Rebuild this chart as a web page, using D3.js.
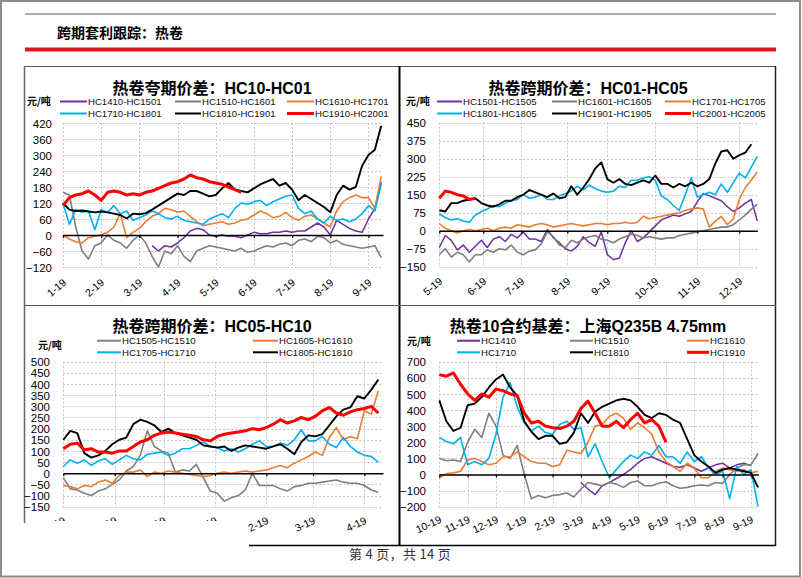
<!DOCTYPE html>
<html><head><meta charset="utf-8">
<script src="https://cdn.jsdelivr.net/npm/d3@7"></script>
<style>html,body{margin:0;padding:0;background:#fff;}svg{display:block;}</style>
</head><body>
<svg id="c" width="802" height="578"></svg>
<script>
// ================= DATA =================
// Panel 1: 热卷夸期价差 HC10-HC01 (x in months, step 1/6 month)
const p1Ticks = ["1-19","2-19","3-19","4-19","5-19","6-19","7-19","8-19","9-19"];
const p1TickPos = [0,1,2,3,4,5,6,7,8];
const p1Names = ["HC1410-HC1501","HC1510-HC1601","HC1610-HC1701","HC1710-HC1801","HC1810-HC1901","HC1910-HC2001"];
const p1Start = [14,0,0,0,0,0];
const p1_s1 = [-40,-60,-40,-45,-30,-10,15,25,20,0,-5,0,-5,-5,-10,0,10,5,5,10,10,15,10,15,15,30,45,30,0,55,40,25,15,10,60,100,200];
const p1_s2 = [160,150,30,-60,-90,-40,-30,0,-20,-30,-50,-20,0,-30,-80,-120,-60,-70,-40,-80,-100,-60,-50,-40,-45,-50,-55,-60,-50,-65,-60,-50,-40,-45,-35,-30,-40,-20,-15,-25,-5,-10,-30,-20,-35,-40,-45,-50,-45,-40,-85];
const p1_s3 = [0,-15,-25,-30,-10,-5,0,10,30,80,-10,10,25,50,70,80,100,95,85,90,70,50,35,40,45,50,40,45,55,60,75,90,80,65,70,85,65,55,70,75,60,45,30,90,125,140,150,140,140,100,220];
const p1_s4 = [120,40,95,85,90,20,95,85,110,80,90,55,65,75,90,80,65,60,70,55,50,45,40,60,70,80,65,100,120,115,125,130,110,125,135,145,150,100,80,90,60,45,70,55,60,50,60,80,110,90,190];
const p1_s5 = [120,95,90,92,88,85,88,85,80,75,62,80,78,82,95,110,125,140,155,150,165,165,155,145,150,175,195,170,165,160,175,190,200,210,185,195,170,130,150,135,120,105,85,150,185,170,180,260,300,320,410];
const p1_s6 = [110,140,150,155,165,150,130,160,165,160,150,155,150,160,165,175,185,195,200,210,225,215,210,200,195,190,180,170,160];

// Panel 2: 热卷跨期价差 HC01-HC05 (x in trading days, step 3 days)
const p2Ticks = ["5-19","6-19","7-19","8-19","9-19","10-19","11-19","12-19"];
const p2TickPos = [0,22,41,64,84,108,129,150];
const p2Names = ["HC1501-HC1505","HC1601-HC1605","HC1701-HC1705","HC1801-HC1805","HC1901-HC1905","HC2001-HC2005"];
const p2Start = [0,0,0,0,0,0];
const p2_s1 = [-70,-20,-40,-80,-60,-90,-65,-40,-70,-35,-25,-45,-15,-30,-5,-35,-35,-45,5,-30,-50,-75,-85,-65,-25,-50,-65,-5,-100,-120,-115,-50,0,-45,-30,-5,20,45,55,65,60,70,80,120,155,145,135,125,100,80,95,115,130,40];
const p2_s2 = [-100,-75,-110,-90,-100,-130,-100,-100,-80,-90,-75,-80,-60,-90,-100,-85,-80,-55,-5,-25,-60,-70,-40,-50,-35,-25,-20,-35,-40,-50,-35,-25,-15,-20,-30,-25,-30,-35,-30,-30,-20,-15,-10,-5,0,5,10,15,15,25,45,65,90,110];
const p2_s3 = [30,10,0,-10,0,5,0,5,10,0,10,15,10,25,20,15,25,30,25,15,20,25,30,25,20,25,30,30,25,30,30,35,30,35,60,50,55,60,65,70,75,85,90,95,90,15,40,60,25,50,130,180,210,245];
const p2_s4 = [70,55,45,50,40,35,65,80,90,105,100,115,125,130,150,135,140,150,130,130,145,155,165,185,170,190,175,165,160,165,185,180,210,210,220,225,210,145,130,105,85,150,220,140,150,160,150,195,160,200,240,220,265,310];
const p2_s5 = [85,80,115,115,125,130,135,115,105,100,110,125,125,140,150,170,160,150,140,155,135,140,185,150,180,215,260,285,215,200,215,195,190,200,210,200,230,195,195,180,195,185,200,185,195,215,280,330,335,300,315,325,360];
const p2_s6 = [135,165,160,150,145,130,135];

// Panel 3: 热卷跨期价差 HC05-HC10 (x in trading days, step 3 days)
const p3Ticks = ["10-19","11-19","12-19","1-19","2-19","3-19","4-19"];
const p3TickPos = [0,22,43,65,87,107,129];
const p3Names = ["HC1505-HC1510","HC1605-HC1610","HC1705-HC1710","HC1805-HC1810","HC1905-HC1910"];
const p3Start = [0,0,0,0,0];
const p3_s1 = [-20,-70,-75,-90,-100,-80,-70,-50,-30,10,30,80,190,120,100,90,5,15,10,40,-20,-80,-90,-125,-110,-100,-75,0,-55,-55,-55,-70,-80,-60,-55,-45,-45,-40,-35,-30,-40,-45,-45,-55,-75,-85];
const p3_s2 = [-55,-60,-70,-55,-60,-40,-30,-45,-10,5,5,15,-15,5,0,10,5,0,-5,-10,-15,-10,0,5,0,5,10,5,10,15,25,35,25,45,60,75,95,80,160,205,150,165,155,280,265,370];
const p3_s3 = [30,60,45,60,35,55,65,40,60,80,65,60,85,90,95,80,90,110,110,125,140,120,115,100,110,95,110,130,145,120,120,135,125,150,195,145,145,165,130,115,160,120,95,80,75,50];
const p3_s4 = [150,190,180,90,70,80,100,130,150,160,220,240,230,215,185,200,180,170,160,150,125,120,115,120,100,115,125,120,115,110,120,130,110,85,140,170,165,175,215,255,285,295,345,335,375,420];
const p3_s5 = [110,130,135,105,110,95,95,90,100,100,120,140,150,170,180,185,180,175,170,165,150,145,165,175,180,185,190,200,195,205,220,240,225,235,250,240,255,280,295,270,260,275,285,290,300,270];

// Panel 4: 热卷10合约基差 (x in months, step 1/4 month)
const p4Ticks = ["10-19","11-19","12-19","1-19","2-19","3-19","4-19","5-19","6-19","7-19","8-19","9-19"];
const p4TickPos = [0,1,2,3,4,5,6,7,8,9,10,11];
const p4Names = ["HC1410","HC1510","HC1610","HC1710","HC1810","HC1910"];
const p4Start = [20,0,0,0,0,0];
const p4_s1 = [-50,-90,-125,-70,-50,-25,0,30,70,100,110,90,70,50,45,60,40,20,40,60,70,40,60,70,55];
const p4_s2 = [100,85,90,80,200,280,230,380,300,120,100,180,0,-150,-130,-145,-130,-125,-115,-140,-90,-50,-60,-70,-50,-60,-80,-50,-40,-70,-70,-55,-45,-70,-85,-80,-70,-65,-70,-50,-55,0,40,60,60,130];
const p4_s3 = [-20,5,10,20,90,100,80,60,70,110,110,140,110,80,70,70,50,60,150,140,130,200,300,310,360,380,350,280,320,290,250,140,80,50,20,70,40,-20,-20,20,40,30,20,30,10,20];
const p4_s4 = [230,205,190,230,60,80,60,100,250,480,570,420,320,270,300,260,250,310,330,280,290,110,190,80,-20,30,80,120,100,140,120,180,110,110,70,140,80,110,40,0,20,-150,50,0,30,-200];
const p4_s5 = [460,330,270,290,430,440,480,540,590,620,540,490,330,265,220,240,240,190,200,260,380,320,390,420,440,460,470,460,420,370,350,380,370,340,320,220,120,80,50,10,30,40,30,20,10,-80];
const p4_s6 = [620,610,630,560,500,460,500,480,530,520,500,490,380,320,330,300,290,285,300,330,410,455,380,300,300,330,290,340,380,320,340,300,200];

// ================= STYLE =================
const COL = {purple:"#7030A0", gray:"#7F7F7F", orange:"#ED7D31", blue:"#00B0F0", black:"#000000", red:"#FF0000"};
const W = {purple:1.5, gray:1.6, orange:1.6, blue:1.6, black:1.9, red:3};
const LATIN = "'Liberation Sans', Arial, 'Noto Sans CJK SC', sans-serif";
const CJK = "'Liberation Sans', 'Noto Sans CJK SC', sans-serif";

const svg = d3.select('#c');
const defs = svg.append('defs');
const cp = defs.append('clipPath').attr('id','clipBL');
cp.append('rect').attr('x',0).attr('y',0).attr('width',399).attr('height',521);
cp.append('rect').attr('x',244).attr('y',0).attr('width',155).attr('height',545);

// page frame
svg.append('rect').attr('x',1).attr('y',1).attr('width',799).attr('height',575.5)
  .attr('fill','none').attr('stroke','#8c8c8c').attr('stroke-width',2);
svg.append('line').attr('x1',25).attr('x2',776).attr('y1',14).attr('y2',14).attr('stroke','#8f8f8f').attr('stroke-width',1.6);
svg.append('text').attr('x',57).attr('y',38).attr('font-family',CJK).attr('font-weight','bold').attr('font-size',14).text('跨期套利跟踪：热卷');
svg.append('line').attr('x1',25).attr('x2',776).attr('y1',49.5).attr('y2',49.5).attr('stroke','#e3141c').attr('stroke-width',4);

// table lines
const tl = svg.append('g').attr('fill','none');
tl.append('line').attr('x1',24).attr('x2',776).attr('y1',66.5).attr('y2',66.5).attr('stroke','#555').attr('stroke-width',1.2);
tl.append('line').attr('x1',24.5).attr('x2',24.5).attr('y1',66).attr('y2',523).attr('stroke','#666').attr('stroke-width',1.5);
tl.append('line').attr('x1',775.5).attr('x2',775.5).attr('y1',66).attr('y2',546).attr('stroke','#222').attr('stroke-width',1.5);
tl.append('line').attr('x1',399.5).attr('x2',399.5).attr('y1',66).attr('y2',546).attr('stroke','#000').attr('stroke-width',2);
tl.append('line').attr('x1',24).attr('x2',776).attr('y1',305.5).attr('y2',305.5).attr('stroke','#555').attr('stroke-width',1.2);
tl.append('line').attr('x1',249).attr('x2',776).attr('y1',545.5).attr('y2',545.5).attr('stroke','#000').attr('stroke-width',1.5);

svg.append('text').attr('x',400).attr('y',559).attr('text-anchor','middle').attr('font-family',"'Noto Sans CJK SC', sans-serif")
  .attr('font-size',13).attr('letter-spacing',0.3).attr('fill','#333').text('第 4 页，共 14 页');

function drawPanel(cfg) {
  const g = svg.append('g');
  if (cfg.clip) g.attr('clip-path', `url(#${cfg.clip})`);
  const x = d3.scaleLinear().domain(cfg.xDomain).range([cfg.left, cfg.right]);
  const y = d3.scaleLinear().domain(cfg.yDomain).range([cfg.bottom, cfg.top]);
  const yTicks = d3.range(cfg.yDomain[0], cfg.yDomain[1] + cfg.yStep / 2, cfg.yStep);

  // gridlines
  g.append('g').selectAll('line').data(yTicks).join('line')
    .attr('x1', cfg.left).attr('x2', cfg.right)
    .attr('y1', d => Math.round(y(d)) + 0.5).attr('y2', d => Math.round(y(d)) + 0.5)
    .attr('stroke', '#c4c4c4').attr('stroke-width', 1).attr('stroke-dasharray', '2,2');
  g.append('g').selectAll('line').data(cfg.tickPos).join('line')
    .attr('x1', d => Math.round(x(d)) + 0.5).attr('x2', d => Math.round(x(d)) + 0.5)
    .attr('y1', cfg.top).attr('y2', cfg.bottom)
    .attr('stroke', '#c4c4c4').attr('stroke-width', 1).attr('stroke-dasharray', '2,2');

  // y labels
  const ya = d3.axisLeft(y).tickValues(yTicks).tickSize(0).tickPadding(0);
  const yg = g.append('g').attr('transform', `translate(${cfg.labelRight},0)`).call(ya);
  yg.select('.domain').remove();
  yg.attr('font-family', LATIN).attr('font-size', 11.5);
  yg.selectAll('text').attr('fill', '#000').attr('dy', '0.36em');

  // x labels
  const xa = d3.axisBottom(x).tickValues(cfg.tickPos).tickFormat((d, i) => cfg.ticks[i]).tickSize(0);
  const xg = g.append('g').attr('transform', `translate(0,${cfg.bottom})`).call(xa);
  xg.select('.domain').remove();
  xg.attr('font-family', LATIN).attr('font-size', 10.5);
  xg.selectAll('text').attr('fill', '#000').attr('x', 0).attr('y', 0).attr('dy', '0.35em')
    .attr('transform', `translate(1,${cfg.xLabOff}) rotate(${cfg.xRot})`).style('text-anchor', 'end');

  // series
  cfg.series.forEach(s => {
    const line = d3.line().x((d, i) => x((s.start + i) * cfg.step)).y(d => y(d));
    g.append('path').datum(s.values).attr('d', line).attr('fill', 'none')
      .attr('stroke', s.color).attr('stroke-width', s.width).attr('stroke-linejoin', 'round');
  });

  // zero axis
  const za = d3.axisBottom(x).tickValues(cfg.tickPos).tickSize(3).tickSizeOuter(0).tickFormat('');
  const zg = g.append('g').attr('transform', `translate(0,${y(0)})`).call(za);
  zg.select('.domain').attr('stroke', '#000').attr('stroke-width', 1.6);
  zg.selectAll('.tick line').attr('stroke', '#000').attr('stroke-width', 1.2);

  // title & unit
  g.append('text').attr('x', cfg.titleX).attr('y', cfg.titleY).attr('text-anchor', 'middle')
    .attr('font-family', CJK).attr('font-weight', 'bold').attr('font-size', 16).text(cfg.title);
  g.append('text').attr('x', cfg.unitX).attr('y', cfg.unitY).attr('font-family', "'Noto Sans CJK SC', sans-serif")
    .attr('font-weight', 'bold').attr('font-size', 10).text('元/吨');

  // legend
  cfg.legend.forEach(L => {
    const s = cfg.series[L.i];
    g.append('line').attr('x1', L.x).attr('x2', L.x + L.len).attr('y1', L.y).attr('y2', L.y)
      .attr('stroke', s.color).attr('stroke-width', s.color === COL.red ? 3 : 2);
    g.append('text').attr('x', L.x + L.len + 1).attr('y', L.y + 3.6).attr('font-family', LATIN)
      .attr('font-size', 9.6).attr('fill', '#111').text(s.name);
  });
}

function mk(names, starts, vals, keys) {
  return names.map((n, i) => ({name: n, start: starts[i], values: vals[i], color: COL[keys[i]], width: W[keys[i]]}));
}

// Panel 1
drawPanel({
  left: 63, right: 383, top: 123, bottom: 267, xDomain: [0, 8.38], yDomain: [-120, 420], yStep: 60,
  step: 1/6, ticks: p1Ticks, tickPos: p1TickPos, labelRight: 52, xLabOff: 14, xRot: -40,
  title: '热卷夸期价差：HC10-HC01', titleX: 212, titleY: 94, unitX: 27, unitY: 105,
  series: mk(p1Names, p1Start, [p1_s1,p1_s2,p1_s3,p1_s4,p1_s5,p1_s6], ['purple','gray','orange','blue','black','red']),
  legend: [{i:0,x:60,y:101.5,len:27},{i:1,x:175,y:101.5,len:26},{i:2,x:287,y:101.5,len:27},
           {i:3,x:60,y:113.5,len:27},{i:4,x:175,y:113.5,len:26},{i:5,x:287,y:113.5,len:27}]
});

// Panel 2
drawPanel({
  left: 439.3, right: 757.3, top: 122.7, bottom: 266.7, xDomain: [0, 159], yDomain: [-150, 450], yStep: 75,
  step: 3, ticks: p2Ticks, tickPos: p2TickPos, labelRight: 426, xLabOff: 13, xRot: -40,
  title: '热卷跨期价差：HC01-HC05', titleX: 588, titleY: 94, unitX: 406, unitY: 105,
  series: mk(p2Names, p2Start, [p2_s1,p2_s2,p2_s3,p2_s4,p2_s5,p2_s6], ['purple','gray','orange','blue','black','red']),
  legend: [{i:0,x:437,y:101.5,len:25},{i:1,x:552,y:101.5,len:25},{i:2,x:665,y:101.5,len:26},
           {i:3,x:437,y:113.5,len:25},{i:4,x:552,y:113.5,len:25},{i:5,x:665,y:113.5,len:26}]
});

// Panel 3
drawPanel({
  left: 63.3, right: 383, top: 361.7, bottom: 506.7, xDomain: [0, 137], yDomain: [-150, 500], yStep: 50,
  step: 3, ticks: p3Ticks, tickPos: p3TickPos, labelRight: 50, xLabOff: 13, xRot: -25, clip: 'clipBL',
  title: '热卷跨期价差：HC05-HC10', titleX: 212, titleY: 332, unitX: 38, unitY: 349,
  series: mk(p3Names, p3Start, [p3_s1,p3_s2,p3_s3,p3_s4,p3_s5], ['gray','orange','blue','black','red']),
  legend: [{i:0,x:97,y:340.7,len:24},{i:1,x:253,y:340.7,len:25},
           {i:2,x:97,y:352.3,len:24},{i:3,x:253,y:352.3,len:25}]
});

// Panel 4
drawPanel({
  left: 439.3, right: 758.3, top: 361.7, bottom: 506.7, xDomain: [0, 11.26], yDomain: [-200, 700], yStep: 100,
  step: 0.25, ticks: p4Ticks, tickPos: p4TickPos, labelRight: 426, xLabOff: 12, xRot: -25,
  title: '热卷10合约基差：上海Q235B 4.75mm', titleX: 588, titleY: 332, unitX: 407, unitY: 345,
  series: mk(p4Names, p4Start, [p4_s1,p4_s2,p4_s3,p4_s4,p4_s5,p4_s6], ['purple','gray','orange','blue','black','red']),
  legend: [{i:0,x:457,y:340.7,len:23},{i:1,x:570,y:340.7,len:23},{i:2,x:687,y:340.7,len:22},
           {i:3,x:457,y:352.3,len:23},{i:4,x:570,y:352.3,len:23},{i:5,x:687,y:352.3,len:22}]
});
</script>
</body></html>
